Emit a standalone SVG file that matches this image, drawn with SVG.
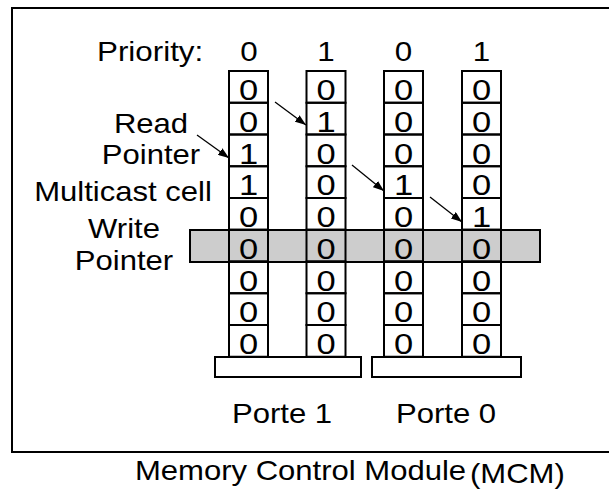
<svg xmlns="http://www.w3.org/2000/svg" width="609" height="492" viewBox="0 0 609 492">
<style>
.t{font-family:"Liberation Sans",Arial,sans-serif;font-size:27px;fill:#000}
.d{font-size:30px}
.h{font-size:28px}
.m{text-anchor:middle}
.cell{fill:none;stroke:#000;stroke-width:2}
.base{fill:#fff;stroke:#000;stroke-width:2}
.band{fill:#cdcdcd;stroke:#000;stroke-width:2}
.frame{fill:none;stroke:#000;stroke-width:2}
.arr{stroke:#000;stroke-width:1.3;fill:none;marker-end:url(#ah)}
</style>
<defs>
<marker id="ah" viewBox="0 0 11 8" refX="11" refY="4" markerWidth="11" markerHeight="8" markerUnits="userSpaceOnUse" orient="auto">
<path d="M0,0 L11,4 L0,8 z" fill="#000"/>
</marker>
</defs>
<rect width="609" height="492" fill="#fff"/>
<g id="frame">
<path class="frame" d="M609,8 H12 V452 H609"/>
</g>
<g id="labels">
<text class="t h" transform="translate(97,61) scale(1.12,1)">Priority:</text>
<text class="t m" transform="translate(151,133) scale(1.15,1)">Read</text>
<text class="t m" transform="translate(151,164) scale(1.15,1)">Pointer</text>
<text class="t m" transform="translate(123,201) scale(1.15,1)">Multicast cell</text>
<text class="t m" transform="translate(124,238) scale(1.15,1)">Write</text>
<text class="t m" transform="translate(124,270) scale(1.15,1)">Pointer</text>
</g>
<g id="write-band">
<rect class="band" x="190" y="230" width="350" height="32"/>
</g>
<g id="queue-1" class="t m">
<text class="h" transform="translate(249,61) scale(1.12,1)">0</text>
<rect class="cell" x="229" y="71" width="39" height="31.75"/>
<rect class="cell" x="229" y="102.75" width="39" height="31.75"/>
<rect class="cell" x="229" y="134.5" width="39" height="31.75"/>
<rect class="cell" x="229" y="166.25" width="39" height="31.75"/>
<rect class="cell" x="229" y="198" width="39" height="31.75"/>
<rect class="cell" x="229" y="229.75" width="39" height="31.75"/>
<rect class="cell" x="229" y="261.5" width="39" height="31.75"/>
<rect class="cell" x="229" y="293.25" width="39" height="31.75"/>
<rect class="cell" x="229" y="325" width="39" height="31.75"/>
<text class="d" transform="translate(248.5,100) scale(1.15,1)">0</text>
<text class="d" transform="translate(248.5,131.75) scale(1.15,1)">0</text>
<text class="d" transform="translate(248.5,163.5) scale(1.15,1)">1</text>
<text class="d" transform="translate(248.5,195.25) scale(1.15,1)">1</text>
<text class="d" transform="translate(248.5,227) scale(1.15,1)">0</text>
<text class="d" transform="translate(248.5,258.75) scale(1.15,1)">0</text>
<text class="d" transform="translate(248.5,290.5) scale(1.15,1)">0</text>
<text class="d" transform="translate(248.5,322.25) scale(1.15,1)">0</text>
<text class="d" transform="translate(248.5,354) scale(1.15,1)">0</text>
</g>
<g id="queue-2" class="t m">
<text class="h" transform="translate(326,61) scale(1.12,1)">1</text>
<rect class="cell" x="306.5" y="71" width="39" height="31.75"/>
<rect class="cell" x="306.5" y="102.75" width="39" height="31.75"/>
<rect class="cell" x="306.5" y="134.5" width="39" height="31.75"/>
<rect class="cell" x="306.5" y="166.25" width="39" height="31.75"/>
<rect class="cell" x="306.5" y="198" width="39" height="31.75"/>
<rect class="cell" x="306.5" y="229.75" width="39" height="31.75"/>
<rect class="cell" x="306.5" y="261.5" width="39" height="31.75"/>
<rect class="cell" x="306.5" y="293.25" width="39" height="31.75"/>
<rect class="cell" x="306.5" y="325" width="39" height="31.75"/>
<text class="d" transform="translate(326,100) scale(1.15,1)">0</text>
<text class="d" transform="translate(326,131.75) scale(1.15,1)">1</text>
<text class="d" transform="translate(326,163.5) scale(1.15,1)">0</text>
<text class="d" transform="translate(326,195.25) scale(1.15,1)">0</text>
<text class="d" transform="translate(326,227) scale(1.15,1)">0</text>
<text class="d" transform="translate(326,258.75) scale(1.15,1)">0</text>
<text class="d" transform="translate(326,290.5) scale(1.15,1)">0</text>
<text class="d" transform="translate(326,322.25) scale(1.15,1)">0</text>
<text class="d" transform="translate(326,354) scale(1.15,1)">0</text>
</g>
<g id="queue-3" class="t m">
<text class="h" transform="translate(403.5,61) scale(1.12,1)">0</text>
<rect class="cell" x="384" y="71" width="39" height="31.75"/>
<rect class="cell" x="384" y="102.75" width="39" height="31.75"/>
<rect class="cell" x="384" y="134.5" width="39" height="31.75"/>
<rect class="cell" x="384" y="166.25" width="39" height="31.75"/>
<rect class="cell" x="384" y="198" width="39" height="31.75"/>
<rect class="cell" x="384" y="229.75" width="39" height="31.75"/>
<rect class="cell" x="384" y="261.5" width="39" height="31.75"/>
<rect class="cell" x="384" y="293.25" width="39" height="31.75"/>
<rect class="cell" x="384" y="325" width="39" height="31.75"/>
<text class="d" transform="translate(403.5,100) scale(1.15,1)">0</text>
<text class="d" transform="translate(403.5,131.75) scale(1.15,1)">0</text>
<text class="d" transform="translate(403.5,163.5) scale(1.15,1)">0</text>
<text class="d" transform="translate(403.5,195.25) scale(1.15,1)">1</text>
<text class="d" transform="translate(403.5,227) scale(1.15,1)">0</text>
<text class="d" transform="translate(403.5,258.75) scale(1.15,1)">0</text>
<text class="d" transform="translate(403.5,290.5) scale(1.15,1)">0</text>
<text class="d" transform="translate(403.5,322.25) scale(1.15,1)">0</text>
<text class="d" transform="translate(403.5,354) scale(1.15,1)">0</text>
</g>
<g id="queue-4" class="t m">
<text class="h" transform="translate(481.5,61) scale(1.12,1)">1</text>
<rect class="cell" x="462" y="71" width="39" height="31.75"/>
<rect class="cell" x="462" y="102.75" width="39" height="31.75"/>
<rect class="cell" x="462" y="134.5" width="39" height="31.75"/>
<rect class="cell" x="462" y="166.25" width="39" height="31.75"/>
<rect class="cell" x="462" y="198" width="39" height="31.75"/>
<rect class="cell" x="462" y="229.75" width="39" height="31.75"/>
<rect class="cell" x="462" y="261.5" width="39" height="31.75"/>
<rect class="cell" x="462" y="293.25" width="39" height="31.75"/>
<rect class="cell" x="462" y="325" width="39" height="31.75"/>
<text class="d" transform="translate(481.5,100) scale(1.15,1)">0</text>
<text class="d" transform="translate(481.5,131.75) scale(1.15,1)">0</text>
<text class="d" transform="translate(481.5,163.5) scale(1.15,1)">0</text>
<text class="d" transform="translate(481.5,195.25) scale(1.15,1)">0</text>
<text class="d" transform="translate(481.5,227) scale(1.15,1)">1</text>
<text class="d" transform="translate(481.5,258.75) scale(1.15,1)">0</text>
<text class="d" transform="translate(481.5,290.5) scale(1.15,1)">0</text>
<text class="d" transform="translate(481.5,322.25) scale(1.15,1)">0</text>
<text class="d" transform="translate(481.5,354) scale(1.15,1)">0</text>
</g>
<g id="port-1">
<rect class="base" x="215" y="357" width="146" height="20"/>
<text class="t m" transform="translate(282,423) scale(1.15,1)">Porte 1</text>
</g>
<g id="port-0">
<rect class="base" x="372" y="357" width="149" height="20"/>
<text class="t m" transform="translate(446,423) scale(1.15,1)">Porte 0</text>
</g>
<g id="title">
<text class="t" transform="translate(135,480) scale(1.15,1)">Memory Control Module</text>
<text class="t" transform="translate(470,483) scale(1.15,1)">(MCM)</text>
</g>
<g id="connectors">
<line class="arr" x1="197" y1="135" x2="229" y2="158"/>
<line class="arr" x1="275" y1="102" x2="306" y2="125"/>
<line class="arr" x1="352" y1="165" x2="384" y2="191"/>
<line class="arr" x1="430" y1="197" x2="462" y2="222"/>
</g>
</svg>
